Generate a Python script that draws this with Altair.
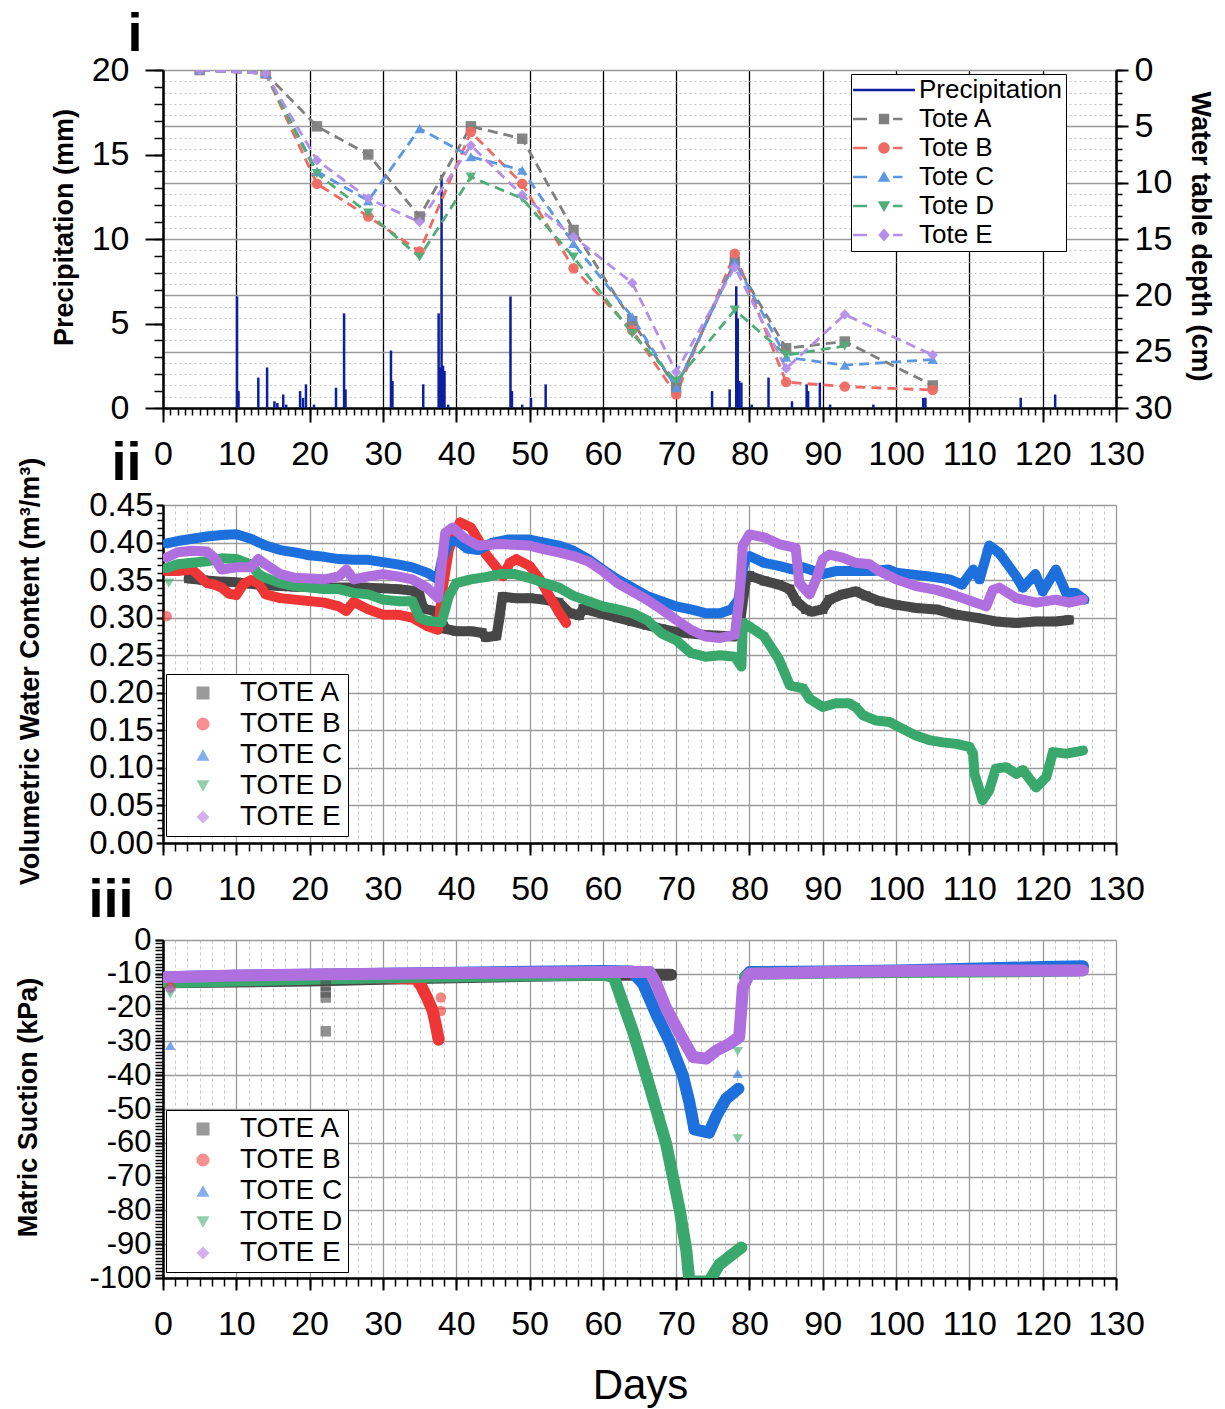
import altair as alt
import pandas as pd

FONT = "Liberation Sans"
PW, PH = 953, 338
LBL = 34
TTL = 27

# ---------------- Panel i: precipitation (mm) ----------------
precip_day = [10.1, 10.3, 13.0, 14.2, 15.2, 15.6, 16.4, 16.8, 18.7, 19.1,
              19.5, 20.6, 23.6, 24.7, 24.9, 31.1, 31.3, 35.5, 37.6, 37.8,
              38.0, 38.2, 38.4, 38.9, 47.4, 47.6, 49.0, 50.2, 52.2, 74.9,
              77.3, 78.2, 78.4, 78.6, 78.9, 80.3, 82.6, 85.8, 87.8, 88.0,
              89.6, 91.0, 96.9, 103.7, 104.0, 117.0, 121.7]
precip_mm = [6.6, 1.0, 1.8, 2.4, 0.4, 0.3, 0.8, 0.2, 1.0, 0.6,
             1.4, 0.2, 1.2, 5.6, 1.1, 3.4, 1.6, 1.4, 5.6, 2.4,
             13.8, 2.5, 2.2, 0.2, 6.6, 1.0, 0.2, 0.6, 1.4, 1.0,
             1.1, 7.2, 5.3, 1.6, 1.5, 0.2, 1.8, 0.4, 1.4, 1.0,
             1.5, 0.2, 0.2, 0.6, 0.6, 0.6, 0.8]

# water table depth (cm)
wt_day = [5, 14, 21, 28, 35, 42, 49, 56, 64, 70, 78, 85, 93, 105]
wt_tote_a = [0, 0.3, 5.0, 7.5, 13.0, 5.0, 6.1, 14.2, 22.3, 28.2, 17.0, 24.7, 24.1, 28.0]
wt_tote_b = [0, 0.3, 10.1, 13.0, 16.1, 5.5, 10.1, 17.6, 23.1, 28.8, 16.3, 27.7, 28.1, 28.4]
wt_tote_c = [0, 0.3, 9.0, 11.6, 5.2, 7.7, 8.9, 15.4, 21.9, 28.2, 17.0, 25.5, 26.2, 25.7]
wt_tote_d = [0, 0.3, 9.2, 12.7, 16.6, 9.5, 11.4, 16.6, 23.4, 27.6, 21.3, 25.3, 24.5, None]
wt_tote_e = [0, 0.3, 8.0, 11.4, 13.5, 6.7, 11.1, 14.8, 18.9, 26.8, 17.5, 26.5, 21.7, 25.3]

totes_i = ["Tote A", "Tote B", "Tote C", "Tote D", "Tote E"]
series_i = ["Precipitation"] + totes_i

# ---------------- Panel ii: volumetric water content (day, m3/m3) ----------------
vwc_a = [(3.5, 0.352), (5.5, 0.350), (8, 0.348), (10, 0.347), (12, 0.345), (14, 0.343),
         (16, 0.342), (18, 0.341), (20, 0.341), (22, 0.340), (24, 0.340), (26, 0.340),
         (28, 0.340), (30, 0.339), (32, 0.338), (34, 0.336), (35, 0.330), (35.5, 0.312),
         (37, 0.309), (37.8, 0.300), (38.5, 0.285), (40, 0.282), (42, 0.282), (43.5, 0.280),
         (44, 0.274), (45.5, 0.276), (45.9, 0.300), (46.3, 0.328), (48, 0.326), (50, 0.326),
         (52, 0.324), (54, 0.320), (55.5, 0.306), (56.8, 0.303), (57.3, 0.312), (60, 0.305),
         (62, 0.300), (64, 0.295), (66, 0.290), (68, 0.285), (70, 0.281), (72, 0.279),
         (74, 0.277), (76, 0.276), (78, 0.275), (78.8, 0.300), (79.5, 0.350), (80, 0.356),
         (82, 0.349), (84, 0.344), (85.5, 0.338), (86.4, 0.322), (87.7, 0.311), (88.5, 0.308),
         (90, 0.311), (90.9, 0.324), (92.7, 0.331), (94.5, 0.335), (95.9, 0.329), (97.7, 0.322),
         (100, 0.317), (102.7, 0.313), (105.5, 0.311), (108.2, 0.304), (110.9, 0.300),
         (113.6, 0.295), (116.4, 0.293), (119.1, 0.295), (121.8, 0.295), (123.6, 0.297)]
vwc_b = [(0.5, 0.362), (2, 0.362), (4, 0.364), (5, 0.355), (6, 0.346), (7, 0.344), (8, 0.340),
         (9, 0.332), (10, 0.330), (11, 0.345), (12, 0.350), (13, 0.346), (14, 0.331), (16, 0.326),
         (18, 0.324), (20, 0.322), (22, 0.320), (24, 0.315), (25, 0.309), (26, 0.321), (28, 0.311),
         (30, 0.304), (32, 0.304), (34, 0.300), (36, 0.289), (37.5, 0.284), (38.2, 0.342),
         (39, 0.391), (40.5, 0.427), (42, 0.420), (43, 0.404), (44, 0.385), (45, 0.373),
         (46.4, 0.355), (47.3, 0.373), (48.2, 0.378), (50, 0.369), (51.4, 0.351), (52.7, 0.329),
         (54.1, 0.306), (55, 0.293)]
vwc_c = [(0.5, 0.399), (2, 0.402), (4, 0.405), (6, 0.408), (8, 0.410), (10, 0.411), (12, 0.405),
         (14, 0.396), (16, 0.390), (18, 0.387), (20, 0.383), (22, 0.381), (24, 0.378), (26, 0.377),
         (28, 0.377), (30, 0.374), (32, 0.371), (34, 0.367), (36, 0.360), (37.5, 0.351),
         (38, 0.375), (39, 0.400), (40, 0.403), (41.5, 0.392), (43, 0.390), (45, 0.400),
         (47, 0.404), (50, 0.404), (52, 0.400), (54, 0.396), (56, 0.389), (58, 0.378), (60, 0.364),
         (62, 0.351), (64, 0.340), (66, 0.329), (68, 0.322), (70, 0.315), (72, 0.311), (74, 0.306),
         (76, 0.306), (77.5, 0.311), (78.5, 0.324), (79, 0.360), (79.5, 0.380), (80, 0.382),
         (82, 0.373), (84, 0.369), (86, 0.364), (87.3, 0.367), (90, 0.358), (91.8, 0.362),
         (94.5, 0.362), (96.8, 0.362), (99, 0.364), (100, 0.360), (101.8, 0.358), (104.5, 0.355),
         (107.3, 0.351), (109, 0.344), (110.5, 0.364), (111.4, 0.351), (112.7, 0.396),
         (114, 0.387), (116.4, 0.355), (117.3, 0.340), (119, 0.358), (120, 0.335), (121.8, 0.364),
         (123.2, 0.333), (124.5, 0.333), (125.7, 0.324)]
vwc_d = [(0.5, 0.366), (2, 0.371), (4, 0.373), (6, 0.375), (8, 0.379), (10, 0.378), (12, 0.371),
         (13, 0.358), (14, 0.353), (16, 0.346), (18, 0.342), (20, 0.340), (22, 0.338), (24, 0.338),
         (26, 0.333), (28, 0.331), (30, 0.324), (32, 0.322), (34, 0.322), (35, 0.300), (36, 0.296),
         (38, 0.294), (39, 0.329), (40, 0.346), (42, 0.351), (44, 0.354), (46, 0.358), (48, 0.358),
         (50, 0.353), (52, 0.346), (54, 0.340), (56, 0.329), (58, 0.322), (60, 0.315), (62, 0.311),
         (64, 0.306), (66, 0.297), (68, 0.279), (70, 0.270), (72, 0.253), (74, 0.248), (76, 0.250),
         (78, 0.248), (78.9, 0.235), (79.1, 0.293), (80, 0.288), (82, 0.275), (84, 0.245),
         (85.5, 0.210), (87.3, 0.206), (88.2, 0.192), (90, 0.181), (91.8, 0.186), (93.6, 0.186),
         (94.5, 0.181), (95.5, 0.170), (97.3, 0.163), (99.1, 0.161), (100.9, 0.152),
         (102.7, 0.143), (104.5, 0.137), (106.4, 0.134), (108.2, 0.132), (110, 0.128),
         (110.5, 0.119), (110.7, 0.092), (111.8, 0.057), (112.7, 0.070), (113.6, 0.099),
         (115, 0.101), (116.4, 0.092), (117.3, 0.097), (119.1, 0.074), (120.5, 0.088),
         (121.4, 0.121), (123.2, 0.119), (125.5, 0.123)]
vwc_e = [(0.5, 0.380), (2, 0.387), (4, 0.389), (6, 0.388), (7, 0.380), (8, 0.364), (10, 0.367),
         (12, 0.367), (13, 0.378), (14, 0.371), (16, 0.358), (18, 0.353), (20, 0.352), (22, 0.351),
         (24, 0.355), (25, 0.364), (26, 0.351), (28, 0.355), (30, 0.358), (32, 0.355), (34, 0.351),
         (36, 0.340), (37.5, 0.326), (38, 0.369), (38.5, 0.413), (39.5, 0.420), (41, 0.407),
         (43, 0.396), (46, 0.398), (50, 0.396), (52, 0.391), (54, 0.387), (56, 0.382), (58, 0.375),
         (60, 0.362), (62, 0.346), (64, 0.335), (66, 0.324), (68, 0.311), (70, 0.297), (72, 0.284),
         (74, 0.275), (76, 0.273), (78, 0.277), (78.6, 0.324), (79.1, 0.396), (80, 0.411),
         (82, 0.407), (84, 0.398), (86.3, 0.393), (86.8, 0.346), (88.2, 0.331), (89.1, 0.351),
         (90, 0.378), (90.9, 0.384), (92.7, 0.380), (94.5, 0.373), (96.4, 0.371), (97.7, 0.362),
         (100, 0.351), (102.7, 0.342), (105.5, 0.337), (108.2, 0.329), (110.9, 0.320),
         (112.3, 0.315), (113.2, 0.337), (114.1, 0.340), (116.4, 0.326), (119.1, 0.320),
         (121.8, 0.324), (123.6, 0.320), (125.5, 0.324)]
vwc_out_series = ["TOTE B", "TOTE D"]
vwc_out_day = [0.5, 0.8]
vwc_out_val = [0.302, 0.346]

# ---------------- Panel iii: matric suction (day, kPa) ----------------
ms_a = [(0.5, -12.5), (10, -12.3), (20, -12.0), (30, -11.5), (40, -11.0), (50, -10.6),
        (60, -10.3), (69.3, -10.3)]
ms_b = [(0.5, -11.5), (10, -11.3), (20, -11.0), (30, -11.0), (34.5, -11.5), (35.2, -13.5),
        (36, -17.0), (36.8, -21.0), (37.3, -26.0), (37.6, -29.5)]
ms_c = [(0.5, -11.0), (10, -10.6), (20, -10.3), (30, -10.0), (40, -9.7), (50, -9.4), (60, -9.2),
        (64, -9.3), (65.5, -13.0), (67.3, -22.0), (69.1, -30.0), (70.9, -40.0), (71.8, -48.0),
        (72.5, -56.0), (74.5, -57.0), (75.5, -52.0), (76.8, -47.0), (78.5, -44.0), (79.4, -11.0),
        (80, -9.5), (90, -9.3), (100, -9.0), (110, -8.5), (120, -8.0), (125.5, -7.8)]
ms_d = [(0.5, -12.5), (10, -12.0), (20, -11.5), (30, -11.0), (40, -10.7), (50, -10.4),
        (60, -10.2), (61.5, -11.0), (64.1, -27.0), (66.4, -43.5), (68.6, -60.0), (70.5, -80.0),
        (71.4, -92.0), (71.8, -101.0), (74.5, -101.0), (75.9, -96.0), (77.7, -93.0),
        (78.9, -91.0), (79.4, -11.0), (80, -10.0), (90, -9.7), (100, -9.5), (110, -9.3),
        (120, -9.2), (125, -9.0)]
ms_e = [(0.5, -11.0), (10, -10.5), (20, -10.2), (30, -10.0), (40, -9.8), (50, -9.6), (60, -9.5),
        (66.4, -9.5), (67.3, -13.0), (68.6, -20.0), (70.5, -27.7), (72.3, -34.6), (74.1, -35.1),
        (75.5, -32.7), (77.3, -30.7), (78.6, -28.7), (78.9, -20.0), (79.1, -14.0), (80, -10.0),
        (91, -9.5), (105, -9.0), (115, -9.0), (125.5, -9.0)]
# logging gaps (no continuous record across these days)
ms_gap_after = {"TOTE C": 79.0, "TOTE D": 79.0}
ms_out_series = ["TOTE A", "TOTE A", "TOTE A", "TOTE A", "TOTE B", "TOTE B", "TOTE B",
                 "TOTE C", "TOTE C", "TOTE D", "TOTE D", "TOTE D", "TOTE E"]
ms_out_day = [22.2, 22.2, 22.2, 22.2, 1.0, 37.9, 37.9, 1.0, 78.4, 1.0, 78.4, 78.4, 1.0]
ms_out_val = [-13.5, -15.5, -17.0, -27.0, -14.0, -17.0, -21.0, -31.2, -39.5, -16.0, -33.0, -58.8, -14.4]

totes = ["TOTE A", "TOTE B", "TOTE C", "TOTE D", "TOTE E"]

# ---------------- styles ----------------
colors_i = ["#0c1f9e", "#7f7f7f", "#ee6a62", "#5b97e3", "#4fae78", "#b48fea"]
colors_ii = ["#474747", "#ee3535", "#1d6fdc", "#3aa86c", "#b06fdf"]
shapes = ["square", "circle", "triangle-up", "triangle-down", "diamond"]
DASH = "M-2.38,-0.09H-1.3V0.09H-2.38Z M0.7,-0.09H1.42V0.09H0.7Z "
legend_paths_i = [
    "M-2.38,-0.09H2.38V0.09H-2.38Z",
    DASH + "M-0.4,-0.4H0.4V0.4H-0.4Z",
    DASH + "M0.44,0A0.44,0.44,0,1,1,-0.44,0A0.44,0.44,0,1,1,0.44,0Z",
    DASH + "M0,-0.46L0.48,0.36L-0.48,0.36Z",
    DASH + "M0,0.46L0.48,-0.36L-0.48,-0.36Z",
    DASH + "M0,-0.5L0.44,0L0,0.5L-0.44,0Z",
]

lbl = dict(labelFont=FONT, labelFontSize=LBL, labelColor="black", labelFlush=False,
           labelOverlap=False, tickColor="black", domainColor="black")
ttl = dict(titleFont=FONT, titleFontSize=TTL, titleFontWeight="bold", titleColor="black",
           titleAlign="center", titleBaseline="middle")


def pairs_df(d, yname, gaps=None):
    gaps = gaps or {}
    rows = []
    for s, pts in d.items():
        for day, v in pts:
            seg = 1 if (s in gaps and day > gaps[s]) else 0
            rows.append({"series": s, "day": day, yname: v, "seg": seg})
    return pd.DataFrame(rows)


def tag_layer(df, field, scale, text, tx, ty):
    # panel tag ("i", "ii", "iii") drawn as the title of a bare left axis
    return alt.Chart(df).mark_point(opacity=0).encode(
        x=alt.X("day:Q", scale=xs, axis=None),
        y=alt.Y(f"{field}:Q", scale=scale, axis=alt.Axis(
            orient="left", labels=False, ticks=False, domain=False, grid=False,
            title=text, titleAngle=0, titleX=tx, titleY=ty, titleAlign="right",
            titleBaseline="alphabetic", titleFont=FONT, titleFontSize=54,
            titleFontWeight="bold", titleColor="black")))


xs = alt.Scale(domain=[0, 130], nice=False, zero=False)

# ====================== Panel i ======================
prec_df = pd.DataFrame({"day": precip_day, "mm": precip_mm})
wt_rows = []
for name, vals in zip(totes_i, [wt_tote_a, wt_tote_b, wt_tote_c, wt_tote_d, wt_tote_e]):
    for d, v in zip(wt_day, vals):
        if v is not None:
            wt_rows.append({"series": name, "day": d, "depth": v})
wt_df = pd.DataFrame(wt_rows)
leg_df = wt_df.drop_duplicates("series")[["series", "day", "depth"]]
leg_df = pd.concat([pd.DataFrame({"series": ["Precipitation"], "day": [0], "depth": [0]}),
                    leg_df], ignore_index=True)

ds = alt.Scale(domain=[0, 30], reverse=True, nice=False, zero=False)
ps = alt.Scale(domain=[0, 20], nice=False, zero=False)

X0 = alt.X("day:Q", scale=xs, axis=None)
YD0 = alt.Y("depth:Q", scale=ds, axis=None)
YP0 = alt.Y("mm:Q", scale=ps, axis=None)

i_depth_minor = alt.Chart(wt_df).mark_point(opacity=0).encode(
    x=X0,
    y=alt.Y("depth:Q", scale=ds, axis=alt.Axis(
        orient="right", values=list(range(0, 31)), tickSize=6, tickWidth=1.5,
        tickColor="black", labels=False, domain=False, grid=True, gridColor="#c4c4c4",
        gridDash=[2, 3], gridWidth=1, title=None)))
i_depth_major = alt.Chart(wt_df).mark_point(opacity=0).encode(
    x=X0,
    y=alt.Y("depth:Q", scale=ds, axis=alt.Axis(
        orient="right", values=list(range(0, 31, 5)), tickSize=12, tickWidth=2,
        labelPadding=6, domainWidth=2.5, grid=True, gridColor="#9a9a9a", gridWidth=1.3,
        title="Water table depth (cm)", titleAngle=90, titleX=83, titleY=166, **lbl, **ttl)))
i_x_major = alt.Chart(prec_df).mark_point(opacity=0).encode(
    x=alt.X("day:Q", scale=xs, axis=alt.Axis(
        orient="bottom", values=list(range(0, 131, 10)), tickSize=14, tickWidth=2,
        labelPadding=15, domainWidth=2.5, grid=True, gridColor="black", gridWidth=1.3,
        title=None, **lbl)),
    y=YP0)
i_x_minor = alt.Chart(prec_df).mark_point(opacity=0).encode(
    x=alt.X("day:Q", scale=xs, axis=alt.Axis(
        orient="bottom", values=list(range(0, 131)), tickSize=7, tickWidth=1.5,
        tickColor="black", labels=False, domain=False, grid=False, title=None)),
    y=YP0)
i_p_major = alt.Chart(prec_df).mark_point(opacity=0).encode(
    x=X0,
    y=alt.Y("mm:Q", scale=ps, axis=alt.Axis(
        orient="left", values=[0, 5, 10, 15, 20], tickSize=18, tickWidth=2, labelPadding=16,
        domainWidth=2.5, grid=False, title="Precipitation (mm)", titleAngle=-90,
        titleX=-99, titleY=157, **lbl, **ttl)))
i_p_minor = alt.Chart(prec_df).mark_point(opacity=0).encode(
    x=X0,
    y=alt.Y("mm:Q", scale=ps, axis=alt.Axis(
        orient="left", values=list(range(0, 21)), tickSize=9, tickWidth=1.5,
        tickColor="black", labels=False, domain=False, grid=False, title=None)))
i_tag = tag_layer(prec_df, "mm", ps, "i", -21, -20)
i_rain = alt.Chart(prec_df).mark_rule(color=colors_i[0], strokeWidth=2.5).encode(
    x=X0, y=YP0, y2=alt.datum(0))
tote_col_i = alt.Scale(domain=totes_i, range=colors_i[1:])
i_lines = alt.Chart(wt_df).mark_line(strokeDash=[10, 6], strokeWidth=2.8, clip=True).encode(
    x=X0, y=YD0,
    color=alt.Color("series:N", scale=tote_col_i, legend=None))
i_pts = alt.Chart(wt_df).mark_point(filled=True, size=110, opacity=0.95, clip=True).encode(
    x=X0, y=YD0,
    color=alt.Color("series:N", scale=tote_col_i, legend=None),
    shape=alt.Shape("series:N", scale=alt.Scale(domain=totes_i, range=shapes), legend=None))
leg_i = alt.Legend(title=None, orient="none", legendX=688, legendY=4, labelFont=FONT,
                   labelFontSize=26, labelColor="black", symbolSize=676, symbolStrokeWidth=0,
                   symbolOpacity=1, strokeColor="black", fillColor="white", padding=3,
                   rowPadding=3, symbolOffset=17, labelOffset=22)
i_leg = alt.Chart(leg_df).mark_point(filled=True, opacity=0).encode(
    x=X0, y=YD0,
    color=alt.Color("series:N", scale=alt.Scale(domain=series_i, range=colors_i), legend=leg_i),
    shape=alt.Shape("series:N", scale=alt.Scale(domain=series_i, range=legend_paths_i),
                    legend=leg_i))

panel_i = alt.layer(
    i_depth_minor, i_depth_major, i_x_major, i_x_minor, i_p_major, i_p_minor, i_tag,
    i_rain, i_lines, i_pts, i_leg
).resolve_scale(
    y="independent", color="independent", shape="independent"
).resolve_axis(x="independent", y="independent").properties(width=PW, height=PH)


# ====================== helpers for panels ii / iii ======================
minor_days = [round(i * 10 / 6, 4) for i in range(0, 79)]


def series_panel(df, yname, yscale, major_vals, minor_vals, ytitle, title_x, title_y,
                 fmt_kw, minor_tick, major_tick, label_pad, band_w, out_df, leg_y,
                 tag, tag_x, tag_y, ylabel_size, xtitle=None):
    Y0 = alt.Y(f"{yname}:Q", scale=yscale, axis=None)
    x_minor = alt.Chart(df).mark_point(opacity=0).encode(
        x=alt.X("day:Q", scale=xs, axis=alt.Axis(
            orient="bottom", values=minor_days, tickSize=8, tickWidth=1.5, tickColor="black",
            labels=False, domain=False, grid=True, gridColor="#c8c8c8", gridDash=[3, 3],
            gridWidth=1, title=None)),
        y=Y0)
    xkw = dict(orient="bottom", values=list(range(0, 131, 10)), tickSize=12, tickWidth=2,
               labelPadding=17, domainWidth=2.5, grid=True, gridColor="#9a9a9a",
               gridWidth=1.3, **lbl)
    if xtitle:
        xkw.update(title=xtitle, titleFont=FONT, titleFontSize=42, titleFontWeight="normal",
                   titleColor="black", titleX=477, titleY=107, titleAlign="center",
                   titleBaseline="middle")
    else:
        xkw.update(title=None)
    x_major = alt.Chart(df).mark_point(opacity=0).encode(
        x=alt.X("day:Q", scale=xs, axis=alt.Axis(**xkw)), y=Y0)
    y_minor = alt.Chart(df).mark_point(opacity=0).encode(
        x=X0,
        y=alt.Y(f"{yname}:Q", scale=yscale, axis=alt.Axis(
            orient="left", values=minor_vals, tickSize=minor_tick, tickWidth=1.5,
            tickColor="black", labels=False, domain=False, grid=False, title=None)))
    ylbl = dict(lbl)
    ylbl["labelFontSize"] = ylabel_size
    y_major = alt.Chart(df).mark_point(opacity=0).encode(
        x=X0,
        y=alt.Y(f"{yname}:Q", scale=yscale, axis=alt.Axis(
            orient="left", values=major_vals, tickSize=major_tick, tickWidth=2,
            labelPadding=label_pad, domainWidth=2.5, grid=True, gridColor="#9a9a9a",
            gridWidth=1.3, title=ytitle, titleAngle=-90, titleX=title_x, titleY=title_y,
            **fmt_kw, **ylbl, **ttl)))
    col = alt.Scale(domain=totes, range=colors_ii)
    shp = alt.Scale(domain=totes, range=shapes)
    leg = alt.Legend(title=None, orient="none", legendX=3, legendY=leg_y, labelFont=FONT,
                     labelFontSize=28, labelColor="black", symbolSize=170, symbolOpacity=0.55,
                     symbolStrokeWidth=0, strokeColor="black", fillColor="white", padding=5,
                     rowPadding=3, symbolOffset=18, labelOffset=23)
    layers = [x_minor, x_major, y_minor, y_major,
              tag_layer(df, yname, yscale, tag, tag_x, tag_y)]
    for t, c in zip(totes, colors_ii):
        base = alt.Chart(df).transform_filter(alt.datum.series == t)
        layers.append(base.mark_line(strokeWidth=band_w, strokeJoin="round", strokeCap="round",
                                     clip=True, color=c).encode(
            x=X0, y=Y0, detail="seg:N"))
        layers.append(base.mark_point(filled=True, size=85, opacity=0.9, clip=True).encode(
            x=X0, y=Y0,
            color=alt.Color("series:N", scale=col, legend=leg),
            shape=alt.Shape("series:N", scale=shp, legend=leg)))
    layers.append(alt.Chart(out_df).mark_point(filled=True, size=110, opacity=0.6,
                                               clip=True).encode(
        x=X0, y=Y0,
        color=alt.Color("series:N", scale=col, legend=leg),
        shape=alt.Shape("series:N", scale=shp, legend=leg)))
    return alt.layer(*layers).resolve_axis(x="independent", y="independent")


# ====================== Panel ii ======================
vwc_df = pairs_df({"TOTE A": vwc_a, "TOTE B": vwc_b, "TOTE C": vwc_c,
                   "TOTE D": vwc_d, "TOTE E": vwc_e}, "vwc")
vwc_out = pd.DataFrame({"series": vwc_out_series, "day": vwc_out_day, "vwc": vwc_out_val})
panel_ii = series_panel(
    vwc_df, "vwc", alt.Scale(domain=[0, 0.45], nice=False, zero=False),
    [round(i * 0.05, 2) for i in range(10)], [round(i * 0.01, 2) for i in range(46)],
    "Volumetric Water Content (m³/m³)", -133, 166, dict(format=".2f"),
    6, 7, 3, 10, vwc_out, 169, "ii", -22, -26, 33
).properties(width=PW, height=PH)

# ====================== Panel iii ======================
ms_df = pairs_df({"TOTE A": ms_a, "TOTE B": ms_b, "TOTE C": ms_c,
                  "TOTE D": ms_d, "TOTE E": ms_e}, "kpa", ms_gap_after)
ms_out = pd.DataFrame({"series": ms_out_series, "day": ms_out_day, "kpa": ms_out_val})
panel_iii = series_panel(
    ms_df, "kpa", alt.Scale(domain=[-100, 0], nice=False, zero=False),
    list(range(-100, 1, 10)), list(range(-100, 1, 1)),
    "Matric Suction (kPa)", -135, 167, dict(labelExpr="'' + datum.value"),
    8, 8, 4, 12, ms_out, 170, "iii", -30, -24, 31, xtitle="Days"
).properties(width=PW, height=PH)

chart = alt.vconcat(panel_i, panel_ii, panel_iii, spacing=97, bounds="flush").resolve_scale(
    color="independent", shape="independent"
).resolve_legend(color="independent", shape="independent").properties(
    padding={"left": 13, "top": 7, "right": 8, "bottom": 2}
).configure(font=FONT).configure_view(stroke=None)

chart.save("out.html", embed_options={"renderer": "svg", "actions": False})
